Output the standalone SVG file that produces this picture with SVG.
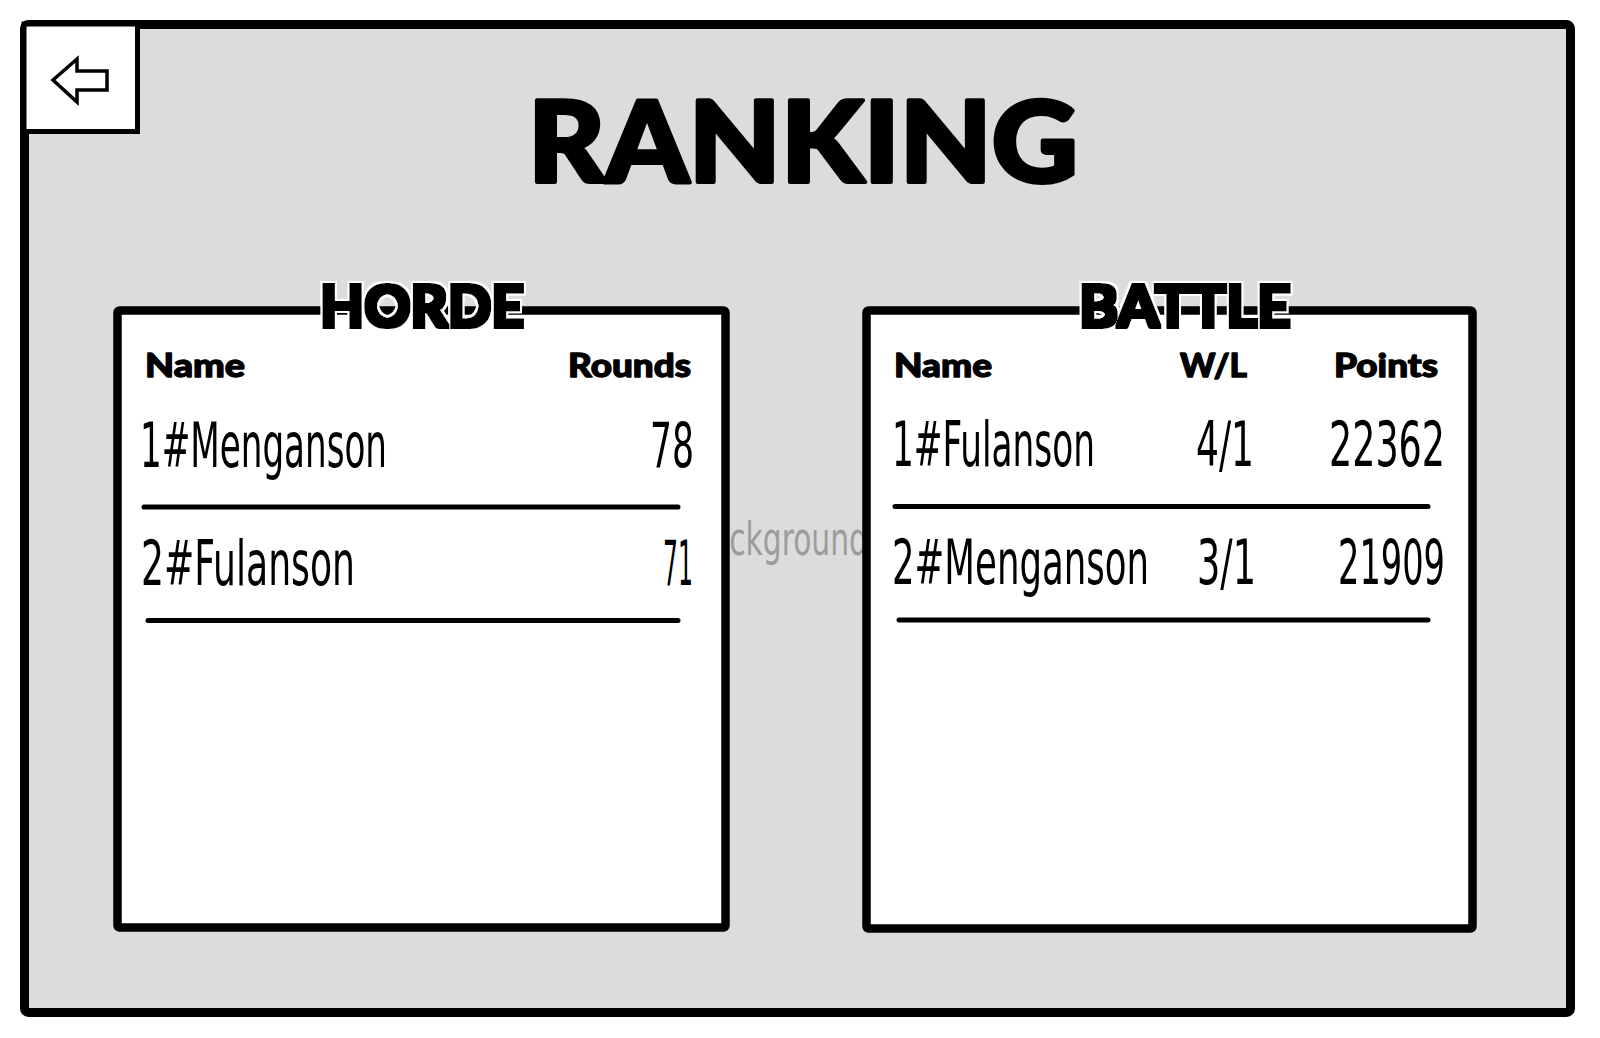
<svg xmlns="http://www.w3.org/2000/svg" width="1600" height="1038" viewBox="0 0 1600 1038">
<style>
.frame{fill:#dcdcdc;stroke:#000;stroke-width:9}
.panel{fill:#fff;stroke:#000;stroke-width:8.5}
.title{font-family:Lato,"DejaVu Sans",sans-serif;font-weight:900;fill:#000;stroke:#000;stroke-width:4;stroke-linejoin:round}
.legend{font-family:Lato,"DejaVu Sans",sans-serif;font-weight:900;fill:#000;font-size:58px;filter:url(#heavy)}
.head{font-family:Lato,"DejaVu Sans",sans-serif;font-weight:900;font-size:33px;fill:#000;stroke:#000;stroke-width:1.3;stroke-linejoin:round}
.row{font-family:"Liberation Sans Narrow","DejaVu Sans Condensed","Liberation Sans",sans-serif;font-size:62px;fill:#000}
.sep{stroke:#000;stroke-width:5;stroke-linecap:round;fill:none}
.bg{font-family:"Liberation Sans Narrow","DejaVu Sans Condensed","Liberation Sans",sans-serif;font-size:47px;fill:#9c9c9c}
</style>
<defs>
<filter id="heavy" x="-10%" y="-30%" width="120%" height="160%">
<feMorphology in="SourceAlpha" operator="dilate" radius="3.5" result="halo"/>
<feFlood flood-color="#fff"/>
<feComposite in2="halo" operator="in" result="white"/>
<feMorphology in="SourceGraphic" operator="dilate" radius="1.5" result="bold"/>
<feMerge><feMergeNode in="white"/><feMergeNode in="bold"/></feMerge>
</filter>
</defs>
<rect width="1600" height="1038" fill="#fff"/>
<g id="screen">
<rect class="frame" x="24.5" y="24.5" width="1546" height="988" rx="4"/>
</g>
<g id="back-button">
<rect x="24" y="24" width="113.5" height="107.5" fill="#fff" stroke="#000" stroke-width="5"/>
<polygon points="53,80 77,59 77,71 107,71 107,90 77,90 77,102" fill="#fff" stroke="#000" stroke-width="3.5" stroke-linejoin="miter"/>
</g>
<g id="title">
<text class="title" x="528" y="182" font-size="112" textLength="550" lengthAdjust="spacingAndGlyphs">RANKING</text>
</g>
<g id="background-label">
<text class="bg" x="780" y="555" text-anchor="middle" textLength="176" lengthAdjust="spacingAndGlyphs">background</text>
</g>
<g id="horde-panel">
<rect class="panel" x="117.5" y="310.5" width="608" height="617" rx="2"/>
<text class="legend" x="320" y="327" textLength="204" lengthAdjust="spacingAndGlyphs">HORDE</text>
<text class="head" x="145" y="377" textLength="100" lengthAdjust="spacingAndGlyphs">Name</text>
<text class="head" x="568" y="377" textLength="123" lengthAdjust="spacingAndGlyphs">Rounds</text>
<text class="row" x="140" y="467" textLength="247" lengthAdjust="spacingAndGlyphs">1#Menganson</text>
<text class="row" x="650" y="467" textLength="44" lengthAdjust="spacingAndGlyphs">78</text>
<text class="row" x="141" y="585" textLength="214" lengthAdjust="spacingAndGlyphs">2#Fulanson</text>
<text class="row" x="663" y="585" textLength="30" lengthAdjust="spacingAndGlyphs">71</text>
</g>
<g id="battle-panel">
<rect class="panel" x="866.5" y="310.5" width="606" height="618" rx="2"/>
<text class="legend" x="1079" y="327" textLength="212" lengthAdjust="spacingAndGlyphs">BATTLE</text>
<text class="head" x="894" y="377" textLength="98" lengthAdjust="spacingAndGlyphs">Name</text>
<text class="head" x="1180" y="377" textLength="67" lengthAdjust="spacingAndGlyphs">W/L</text>
<text class="head" x="1334" y="377" textLength="104" lengthAdjust="spacingAndGlyphs">Points</text>
<text class="row" x="892" y="466" textLength="203" lengthAdjust="spacingAndGlyphs">1#Fulanson</text>
<text class="row" x="1196" y="466" textLength="58" lengthAdjust="spacingAndGlyphs">4/1</text>
<text class="row" x="1329" y="466" textLength="116" lengthAdjust="spacingAndGlyphs">22362</text>
<text class="row" x="892" y="584" textLength="257" lengthAdjust="spacingAndGlyphs">2#Menganson</text>
<text class="row" x="1197" y="584" textLength="59" lengthAdjust="spacingAndGlyphs">3/1</text>
<text class="row" x="1338" y="584" textLength="107" lengthAdjust="spacingAndGlyphs">21909</text>
</g>
<g id="connectors">
<line class="sep" x1="144" y1="507" x2="678" y2="507"/>
<line class="sep" x1="148" y1="620.5" x2="678" y2="620.5"/>
<line class="sep" x1="895" y1="506.5" x2="1428" y2="506.5"/>
<line class="sep" x1="899" y1="620" x2="1428" y2="620"/>
</g>
</svg>
